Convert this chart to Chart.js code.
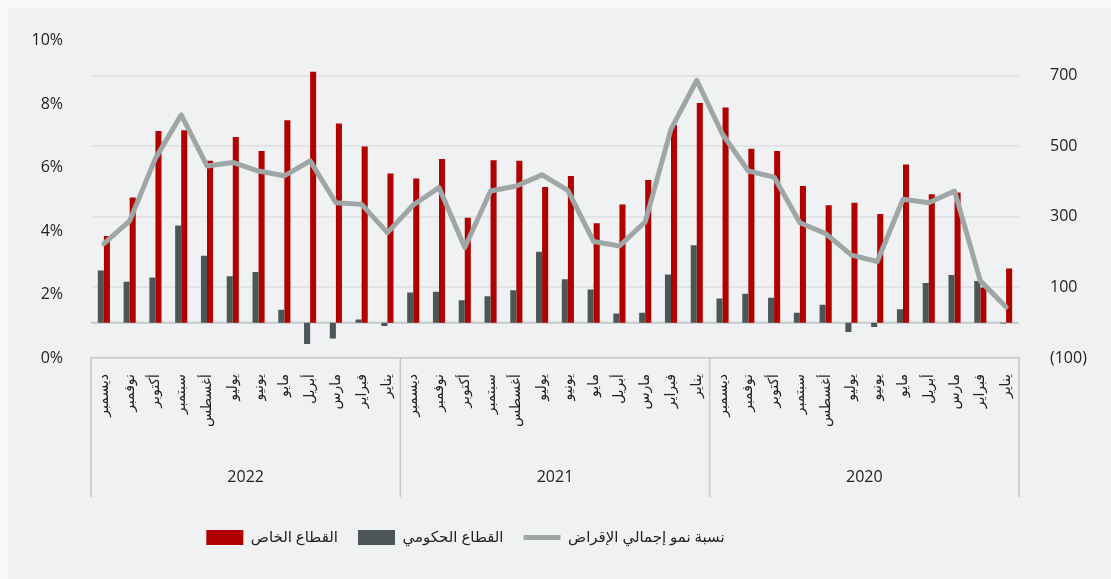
<!DOCTYPE html>
<html lang="ar">
<head>
<meta charset="utf-8">
<script src="https://cdn.jsdelivr.net/npm/chart.js@4.4.1/dist/chart.umd.min.js"></script>
<style>
    html, body { margin: 0; padding: 0; background: #f7f8f9; }
    #wrap { width: 1111px; height: 579px; }
</style>
</head>
<body>
<div id="wrap"><canvas id="chart"></canvas></div>
<script>
// بيانات الرسم
const months = ['يناير', 'فبراير', 'مارس', 'أبريل', 'مايو', 'يونيو', 'يوليو', 'أغسطس', 'سبتمبر', 'أكتوبر', 'نوفمبر', 'ديسمبر'];
const years = ['2020', '2021', '2022'];

// القطاع الخاص (المحور الأيمن)
const privateSector = [
    154, 100, 369, 364, 449, 308, 340, 333, 388, 487, 493, 610,
    623, 561, 405, 335, 282, 416, 385, 459, 461, 298, 464, 409,
    423, 500, 565, 712, 574, 487, 527, 459, 546, 544, 355, 246
];

// القطاع الحكومي (المحور الأيمن)
const governmentSector = [
    -2, 118, 135, 113, 38, -12, -26, 51, 28, 71, 82, 69,
    220, 137, 28, 26, 94, 123, 201, 92, 75, 64, 88, 86,
    -9, 9, -45, -60, 37, 144, 132, 190, 276, 128, 116, 148
];

// نسبة نمو إجمالي الإقراض % (المحور الأيسر)
const lendingGrowth = [
    1.61, 2.43, 5.26, 4.89, 5.00, 3.04, 3.24, 3.92, 4.26, 5.70, 5.89, 7.05,
    8.75, 7.21, 4.29, 3.53, 3.67, 5.28, 5.77, 5.42, 5.26, 3.48, 5.37, 4.82,
    3.95, 4.84, 4.89, 6.21, 5.74, 5.89, 6.16, 6.05, 7.66, 6.29, 4.32, 3.60
];

const leftTicks = [0, 2, 4, 6, 8, 10];
const rightTicks = [-100, 100, 300, 500, 700];

const labels = [];
years.forEach(() => months.forEach(m => labels.push(m)));

const FONT = "'Open Sans', 'DejaVu Sans', sans-serif";
const TEXT = '#222222';
const LINE_SOFT = '#c5c9ca';

// ===== الخلفية =====
const backgroundPlugin = {
    id: 'bg',
    beforeDraw(chart) {
        const { ctx, width, height } = chart;
        ctx.save();
        ctx.fillStyle = '#f7f8f9';
        ctx.fillRect(0, 0, width, height);
        ctx.fillStyle = '#eff1f3';
        ctx.fillRect(8, 8, width - 8, height - 8);
        ctx.restore();
    }
};

// ===== خط الصفر =====
const zeroLinePlugin = {
    id: 'zeroLine',
    beforeDatasetsDraw(chart) {
        const { ctx, chartArea, scales } = chart;
        const y = scales.y1.getPixelForValue(0);
        ctx.save();
        ctx.strokeStyle = LINE_SOFT;
        ctx.lineWidth = 2;
        ctx.beginPath();
        ctx.moveTo(chartArea.left, y);
        ctx.lineTo(chartArea.right, y);
        ctx.stroke();
        ctx.restore();
    }
};

// المفتاح مزاح قليلاً إلى اليسار كما في الأصل
const legendShiftPlugin = {
    id: 'legendShift',
    afterLayout(chart) {
        if (!chart.legend) return;
        chart.legend.left -= 90;
        chart.legend.right -= 90;
    }
};

// ===== مجموعات السنوات تحت المحور =====
const yearGroupsPlugin = {
    id: 'yearGroups',
    afterDraw(chart) {
        const { ctx, chartArea, scales } = chart;
        const x = scales.x;
        const bottom = 497;
        ctx.save();
        ctx.strokeStyle = LINE_SOFT;
        ctx.lineWidth = 1.5;
        ctx.fillStyle = TEXT;
        ctx.font = '16px ' + FONT;
        ctx.textAlign = 'center';
        ctx.textBaseline = 'middle';

        const edges = [];
        for (let g = 0; g <= years.length; g++) {
            const i = g * months.length;
            let px;
            if (i === 0) px = x.getPixelForValue(0) + (x.getPixelForValue(0) - x.getPixelForValue(1)) / 2;
            else if (i === labels.length) px = x.getPixelForValue(i - 1) - (x.getPixelForValue(i - 2) - x.getPixelForValue(i - 1)) / 2;
            else px = (x.getPixelForValue(i - 1) + x.getPixelForValue(i)) / 2;
            edges.push(px);
        }

        edges.forEach(px => {
            ctx.beginPath();
            ctx.moveTo(px, chartArea.bottom);
            ctx.lineTo(px, bottom);
            ctx.stroke();
        });

        years.forEach((yr, g) => {
            ctx.fillText(yr, (edges[g] + edges[g + 1]) / 2, 477);
        });
        ctx.restore();
    }
};

// ترتيب عناصر المفتاح من اليسار إلى اليمين
const legendOrder = [2, 1, 0];

const chart = new Chart(document.getElementById('chart'), {
    data: {
        labels: labels,
        datasets: [
            {
                type: 'line',
                label: 'نسبة نمو إجمالي الإقراض',
                data: lendingGrowth,
                yAxisID: 'y',
                borderColor: '#9ea7a5',
                backgroundColor: '#9ea7a5',
                borderWidth: 5,
                borderCapStyle: 'round',
                borderJoinStyle: 'round',
                pointRadius: 0,
                tension: 0,
                order: 0
            },
            {
                type: 'bar',
                label: 'القطاع الحكومي',
                data: governmentSector,
                yAxisID: 'y1',
                backgroundColor: '#4d5656',
                borderWidth: 0,
                categoryPercentage: 0.47,
                barPercentage: 1,
                order: 1
            },
            {
                type: 'bar',
                label: 'القطاع الخاص',
                data: privateSector,
                yAxisID: 'y1',
                backgroundColor: '#b00000',
                borderWidth: 0,
                categoryPercentage: 0.47,
                barPercentage: 1,
                order: 2
            }
        ]
    },
    options: {
        responsive: true,
        maintainAspectRatio: false,
        animation: false,
        layout: { padding: { top: 31, left: 0, right: 0, bottom: 24 } },
        plugins: {
            tooltip: { enabled: false },
            legend: {
                position: 'bottom',
                labels: {
                    usePointStyle: true,
                    pointStyleWidth: 37,
                    boxHeight: 16,
                    padding: 20,
                    color: TEXT,
                    font: { family: FONT, size: 15 },
                    generateLabels(chart) {
                        const items = Chart.defaults.plugins.legend.labels.generateLabels(chart);
                        items.forEach(it => {
                            it.pointStyle = chart.data.datasets[it.datasetIndex].type === 'line' ? 'line' : 'rect';
                        });
                        return items;
                    },
                    sort: (a, b) => legendOrder.indexOf(a.datasetIndex) - legendOrder.indexOf(b.datasetIndex)
                }
            }
        },
        scales: {
            x: {
                reverse: true,
                offset: true,
                grid: { display: false, drawTicks: false },
                border: { display: true, color: LINE_SOFT, width: 1.5 },
                ticks: {
                    autoSkip: false,
                    minRotation: 90,
                    maxRotation: 90,
                    padding: 16,
                    color: TEXT,
                    font: { family: FONT, size: 14 }
                },
                afterFit(scale) { scale.height = 152; }
            },
            y: {
                position: 'left',
                min: 0,
                max: 10,
                grid: { display: false, drawTicks: false },
                border: { display: false },
                afterBuildTicks(scale) { scale.ticks = leftTicks.map(v => ({ value: v })); },
                ticks: {
                    padding: 28,
                    color: TEXT,
                    font: { family: FONT, size: 16 },
                    callback: v => v + '%'
                },
                afterFit(scale) { scale.width = 91; }
            },
            y1: {
                position: 'right',
                min: -100,
                max: 800,
                grid: {
                    drawTicks: false,
                    lineWidth: 2,
                    color: ctx => ctx.tick && ctx.tick.value < 0 ? 'rgba(0,0,0,0)' : '#e1e3e5'
                },
                border: { display: false },
                afterBuildTicks(scale) { scale.ticks = rightTicks.map(v => ({ value: v })); },
                ticks: {
                    padding: 31,
                    color: TEXT,
                    font: { family: FONT, size: 16 },
                    callback: v => v < 0 ? '(' + Math.abs(v) + ')' : String(v)
                },
                afterFit(scale) { scale.width = 92; }
            }
        }
    },
    plugins: [backgroundPlugin, zeroLinePlugin, legendShiftPlugin, yearGroupsPlugin]
});
</script>
</body>
</html>
